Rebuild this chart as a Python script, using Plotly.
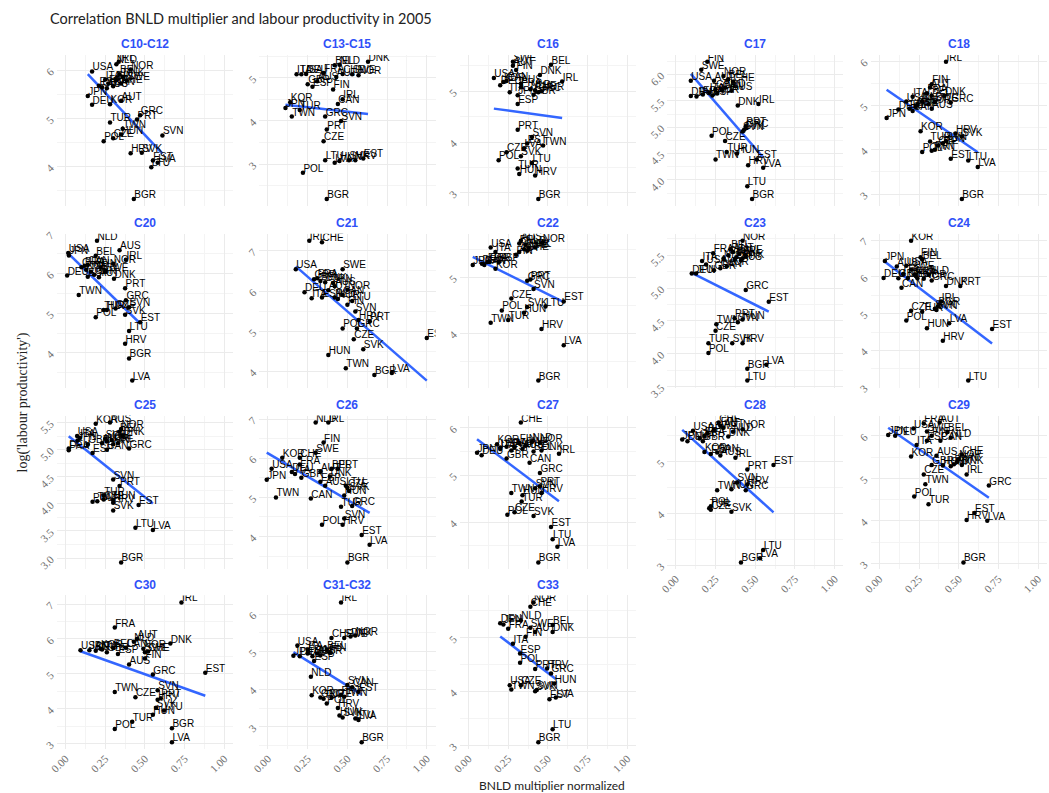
import numpy as np
import plotly.graph_objects as go

TITLE = "Correlation BNLD multiplier and labour productivity in 2005"
X_TITLE = "BNLD multiplier normalized"
Y_TITLE = "log('labour productivity')"

PANEL_NAMES = ["C10-C12", "C13-C15", "C16", "C17", "C18",
               "C20", "C21", "C22", "C23", "C24",
               "C25", "C26", "C27", "C28", "C29",
               "C30", "C31-C32", "C33"]

c10_iso = ["USA","NLD","IRL","NOR","BEL","DNK","ITA","FIN","SWE","FRA","CHE","ESP","GBR","CAN","AUS","JPN","DEU","KOR","AUT","GRC","PRT","TUR","TWN","HUN","CZE","POL","SVN","HRV","SVK","EST","LVA","LTU","BGR"]
c10_x = [0.167,0.32,0.335,0.41,0.34,0.36,0.25,0.32,0.385,0.27,0.35,0.21,0.23,0.30,0.26,0.14,0.167,0.28,0.35,0.47,0.45,0.28,0.36,0.35,0.30,0.24,0.61,0.41,0.48,0.55,0.58,0.54,0.43]
c10_y = [5.98,6.13,6.18,6.02,5.92,5.87,5.81,5.80,5.79,5.73,5.73,5.68,5.65,5.67,5.63,5.47,5.29,5.30,5.37,5.07,4.98,4.92,4.79,4.67,4.59,4.53,4.65,4.28,4.29,4.13,4.08,3.99,3.33]

c13_iso = ["ITA","USA","DEU","FRA","BEL","NLD","DNK","AUT","CHE","SWE","NOR","AUS","GBR","ESP","FIN","IRL","CAN","KOR","JPN","TUR","TWN","GRC","SVN","PRT","CZE","LTU","LVA","HUN","SVK","HRV","EST","POL","BGR"]
c13_x = [0.18,0.21,0.24,0.35,0.42,0.45,0.63,0.43,0.47,0.53,0.57,0.31,0.25,0.28,0.41,0.47,0.44,0.14,0.11,0.20,0.15,0.36,0.46,0.37,0.35,0.36,0.42,0.45,0.51,0.55,0.60,0.22,0.37]
c13_y = [5.08,5.08,5.09,5.11,5.29,5.30,5.37,5.02,5.09,5.08,5.06,4.92,4.85,4.79,4.73,4.50,4.39,4.43,4.30,4.25,4.10,4.10,4.00,3.80,3.53,3.09,3.03,3.07,3.09,3.09,3.13,2.80,2.19]

c16_iso = ["SWE","AUT","FIN","USA","CAN","KOR","DEU","FRA","AUS","BEL","DNK","IRL","NOR","GBR","NLD","CHE","GRC","ITA","JPN","ESP","PRT","SVN","EST","TWN","LVA","CZE","SVK","POL","LTU","TUR","HUN","HRV","BGR"]
c16_x = [0.28,0.28,0.30,0.16,0.24,0.22,0.20,0.33,0.33,0.52,0.45,0.59,0.46,0.41,0.39,0.42,0.44,0.26,0.31,0.31,0.31,0.40,0.37,0.47,0.35,0.24,0.33,0.19,0.40,0.31,0.32,0.42,0.44]
c16_y = [5.58,5.50,5.42,5.26,5.20,5.18,5.12,5.08,5.15,5.52,5.32,5.19,5.00,4.93,5.04,5.02,4.98,4.98,4.92,4.75,4.24,4.10,3.97,3.93,3.88,3.80,3.72,3.64,3.59,3.48,3.37,3.34,2.88]

c17_iso = ["FIN","SWE","NOR","USA","AUT","BEL","CHE","AUS","DEU","FRA","ITA","GBR","ESP","JPN","CAN","NLD","KOR","DNK","IRL","GRC","SVN","SVK","PRT","POL","CZE","TUR","HUN","TWN","EST","HRV","LVA","LTU","BGR"]
c17_x = [0.198,0.16,0.30,0.094,0.24,0.33,0.36,0.35,0.094,0.17,0.21,0.25,0.23,0.13,0.29,0.31,0.26,0.39,0.52,0.44,0.42,0.43,0.44,0.225,0.31,0.32,0.385,0.25,0.51,0.455,0.55,0.45,0.48]
c17_y = [6.24,6.09,5.97,5.88,5.88,5.91,5.86,5.69,5.59,5.62,5.66,5.72,5.60,5.58,5.70,5.75,5.64,5.41,5.44,4.98,4.92,4.95,5.02,4.84,4.74,4.53,4.50,4.39,4.39,4.28,4.23,3.88,3.64]

c18_iso = ["IRL","AUT","FIN","FRA","BEL","DNK","GRC","AUS","NLD","SWE","CHE","ITA","USA","ESP","GBR","NOR","CAN","DEU","JPN","KOR","TUR","HRV","SVK","HUN","SVN","CZE","PRT","TWN","POL","EST","LTU","LVA","BGR"]
c18_x = [0.42,0.32,0.33,0.30,0.33,0.41,0.45,0.33,0.27,0.35,0.24,0.21,0.17,0.19,0.23,0.31,0.21,0.12,0.046,0.26,0.32,0.48,0.52,0.40,0.42,0.37,0.35,0.33,0.27,0.45,0.56,0.62,0.52]
c18_y = [5.99,5.41,5.48,5.28,5.23,5.22,5.07,4.93,5.10,5.08,5.02,5.20,5.09,4.93,4.98,5.03,4.88,4.91,4.72,4.42,4.19,4.37,4.30,4.15,4.20,4.10,4.00,3.98,3.95,3.80,3.76,3.61,2.89]

c20_iso = ["NLD","USA","JPN","AUS","BEL","IRL","FRA","CHE","NOR","CAN","KOR","ITA","SWE","FIN","DEU","ESP","GBR","AUT","DNK","PRT","TWN","GRC","SVN","TUR","HUN","CZE","POL","SVK","EST","LTU","HRV","BGR","LVA"]
c20_x = [0.198,0.017,0.021,0.34,0.19,0.38,0.12,0.10,0.30,0.14,0.13,0.16,0.25,0.22,0.01,0.14,0.18,0.21,0.305,0.375,0.083,0.38,0.40,0.24,0.26,0.315,0.19,0.375,0.47,0.40,0.375,0.40,0.42]
c20_y = [6.83,6.52,6.46,6.59,6.45,6.35,6.20,6.16,6.25,6.22,6.10,6.05,6.05,6.15,5.95,5.92,5.97,5.91,5.87,5.63,5.46,5.33,5.15,5.08,5.08,5.12,4.90,4.96,4.77,4.55,4.23,3.86,3.30]

c21_iso = ["IRL","CHE","USA","SWE","GBR","FRA","BEL","DNK","JPN","AUS","AUT","DEU","ITA","NOR","ESP","NLD","KOR","CAN","FIN","LTU","SVN","HRV","PRT","POL","GRC","CZE","SVK","EST","HUN","TWN","BGR","LVA"]
c21_x = [0.26,0.34,0.175,0.47,0.29,0.31,0.33,0.36,0.41,0.42,0.38,0.23,0.275,0.50,0.34,0.42,0.44,0.47,0.50,0.53,0.55,0.57,0.64,0.47,0.56,0.54,0.60,1.0,0.38,0.49,0.67,0.78]
c21_y = [7.25,7.21,6.54,6.54,6.29,6.32,6.25,6.22,6.20,6.12,6.02,5.97,5.82,6.03,5.84,5.84,5.80,5.90,5.66,5.75,5.49,5.28,5.25,5.07,5.07,4.80,4.55,4.83,4.41,4.08,3.91,3.96]

c22_iso = ["USA","ITA","JPN","DEU","FRA","ESP","KOR","AUS","BEL","NOR","IRL","SWE","AUT","NLD","FIN","CHE","DNK","GBR","CAN","GRC","PRT","SVN","CZE","EST","LTU","SVK","HUN","POL","TUR","TWN","HRV","LVA","BGR"]
c22_x = [0.14,0.17,0.027,0.085,0.12,0.19,0.17,0.33,0.32,0.465,0.42,0.35,0.32,0.36,0.30,0.37,0.38,0.13,0.10,0.37,0.39,0.41,0.27,0.60,0.485,0.37,0.35,0.21,0.25,0.14,0.46,0.60,0.44]
c22_y = [5.53,5.45,5.22,5.24,5.27,5.27,5.15,5.65,5.60,5.62,5.53,5.50,5.45,5.58,5.40,5.47,5.52,5.28,5.22,4.94,4.96,4.79,4.62,4.57,4.48,4.47,4.37,4.41,4.24,4.19,4.08,3.79,3.16]

c23_iso = ["NOR","BEL","FRA","AUT","SWE","IRL","DNK","FIN","CHE","AUS","ESP","NLD","ITA","USA","GBR","CAN","KOR","DEU","JPN","GRC","EST","PRT","SVN","HUN","TWN","CZE","TUR","SVK","HRV","POL","LVA","BGR","LTU"]
c23_x = [0.42,0.345,0.235,0.36,0.40,0.44,0.42,0.38,0.33,0.41,0.37,0.30,0.165,0.19,0.24,0.28,0.32,0.10,0.127,0.44,0.585,0.37,0.39,0.42,0.255,0.25,0.205,0.355,0.42,0.205,0.57,0.45,0.45]
c23_y = [5.72,5.59,5.53,5.55,5.52,5.50,5.45,5.47,5.50,5.42,5.43,5.45,5.41,5.36,5.27,5.30,5.33,5.22,5.22,4.97,4.79,4.54,4.48,4.52,4.45,4.35,4.16,4.16,4.16,4.01,3.83,3.77,3.59]

c24_iso = ["KOR","JPN","FIN","BEL","AUS","USA","SWE","NLD","AUT","ITA","FRA","CHE","GBR","ESP","NOR","DEU","GRC","DNK","PRT","CAN","IRL","BGR","SVK","SVN","CZE","TUR","POL","LVA","HUN","EST","HRV","LTU"]
c24_x = [0.20,0.035,0.26,0.27,0.11,0.17,0.20,0.31,0.22,0.15,0.23,0.18,0.12,0.24,0.28,0.027,0.33,0.42,0.51,0.14,0.39,0.37,0.35,0.36,0.20,0.27,0.17,0.44,0.30,0.71,0.40,0.56]
c24_y = [6.98,6.43,6.53,6.47,6.28,6.30,6.20,6.06,6.06,6.08,6.02,5.97,5.96,5.96,5.95,5.97,5.90,5.75,5.75,5.70,5.33,5.20,5.13,5.10,5.08,5.05,4.81,4.74,4.60,4.58,4.26,3.18]

c25_iso = ["KOR","AUS","NOR","BEL","DNK","USA","ITA","JPN","DEU","FRA","ESP","GBR","SWE","NLD","FIN","AUT","CHE","IRL","CAN","GRC","SVN","PRT","TUR","POL","HUN","CZE","TWN","HRV","SVK","EST","LTU","LVA","BGR"]
c25_x = [0.19,0.28,0.35,0.34,0.36,0.073,0.09,0.075,0.02,0.02,0.17,0.14,0.25,0.26,0.30,0.23,0.29,0.33,0.26,0.40,0.30,0.34,0.24,0.17,0.30,0.24,0.20,0.30,0.30,0.46,0.44,0.55,0.35]
c25_y = [5.48,5.50,5.38,5.33,5.25,5.25,5.22,5.17,5.02,4.99,4.94,5.10,5.20,5.15,5.10,5.12,5.18,5.12,5.00,5.02,4.45,4.33,4.15,4.04,4.07,4.08,4.05,4.02,3.88,3.98,3.56,3.52,2.92]

c26_iso = ["NLD","IRL","FIN","SWE","KOR","CHE","FRA","USA","DEU","AUT","BEL","PRT","DNK","JPN","ESP","GBR","ITA","AUS","CZE","SVK","HUN","LTU","TWN","CAN","TUR","GRC","SVN","HRV","POL","EST","LVA","BGR"]
c26_x = [0.30,0.38,0.35,0.30,0.09,0.20,0.20,0.023,0.15,0.33,0.40,0.44,0.39,-0.008,0.33,0.21,0.17,0.36,0.50,0.51,0.48,0.49,0.05,0.27,0.46,0.53,0.48,0.47,0.34,0.59,0.64,0.50]
c26_y = [6.91,6.91,6.40,6.14,6.01,6.01,5.84,5.73,5.65,5.66,5.73,5.73,5.53,5.45,5.40,5.50,5.60,5.30,5.25,5.16,5.05,5.30,5.00,4.97,4.76,4.78,4.46,4.30,4.30,4.04,3.79,3.34]

c27_iso = ["CHE","JPN","DEU","KOR","USA","NLD","NOR","FIN","SWE","AUT","FRA","ITA","ESP","AUS","BEL","DNK","IRL","GBR","CAN","GRC","PRT","SVN","HRV","TWN","HUN","TUR","POL","CZE","SVK","EST","LTU","LVA","BGR"]
c27_x = [0.33,0.054,0.083,0.18,0.20,0.40,0.45,0.32,0.36,0.29,0.24,0.20,0.27,0.34,0.41,0.46,0.57,0.24,0.385,0.45,0.45,0.42,0.46,0.27,0.34,0.335,0.245,0.29,0.41,0.52,0.53,0.56,0.44]
c27_y = [6.11,5.47,5.42,5.65,5.58,5.70,5.68,5.68,5.62,5.58,5.60,5.55,5.52,5.55,5.50,5.52,5.45,5.35,5.26,5.04,4.76,4.72,4.62,4.62,4.57,4.44,4.16,4.21,4.13,3.90,3.64,3.48,3.15]

c28_iso = ["USA","JPN","DEU","CHE","FIN","SWE","NOR","AUT","BEL","NLD","FRA","ITA","DNK","GBR","KOR","ESP","AUS","CAN","IRL","PRT","EST","SVN","HRV","TWN","HUN","GRC","POL","CZE","TUR","SVK","LTU","LVA","BGR"]
c28_x = [0.108,0.04,0.073,0.27,0.28,0.24,0.42,0.30,0.20,0.36,0.18,0.15,0.33,0.17,0.18,0.22,0.28,0.26,0.375,0.45,0.615,0.385,0.45,0.26,0.35,0.44,0.22,0.22,0.21,0.35,0.55,0.53,0.41]
c28_y = [5.60,5.43,5.40,5.76,5.70,5.62,5.63,5.66,5.55,5.58,5.50,5.45,5.49,5.40,5.19,5.15,5.12,5.18,5.08,4.85,4.94,4.60,4.56,4.45,4.47,4.45,4.14,4.07,4.10,4.03,3.29,3.13,3.05]

c29_iso = ["FRA","AUT","USA","JPN","DEU","SWE","BEL","NLD","ESP","CAN","FIN","ITA","KOR","AUS","CHE","NOR","SVN","GBR","HUN","SVK","DNK","PRT","IRL","CZE","TWN","POL","TUR","GRC","EST","HRV","LVA","BGR"]
c29_x = [0.28,0.38,0.215,0.056,0.10,0.30,0.43,0.45,0.30,0.385,0.33,0.235,0.20,0.36,0.52,0.50,0.49,0.33,0.40,0.45,0.52,0.47,0.55,0.28,0.29,0.22,0.31,0.69,0.60,0.55,0.68,0.53]
c29_y = [6.29,6.31,6.17,6.02,6.00,6.10,6.09,5.95,5.88,5.88,6.00,5.78,5.51,5.53,5.56,5.45,5.38,5.31,5.30,5.28,5.31,5.33,5.09,5.09,4.86,4.57,4.39,4.83,4.18,4.02,4.00,3.02]

c30_iso = ["IRL","FRA","AUT","NLD","DNK","USA","JPN","DEU","ITA","KOR","GBR","BEL","CAN","ESP","NOR","SWE","CHE","FIN","AUS","GRC","EST","SVN","TWN","CZE","HRV","PRT","SVK","LTU","HUN","TUR","POL","BGR","LVA"]
c30_x = [0.73,0.31,0.45,0.43,0.66,0.094,0.15,0.19,0.23,0.22,0.26,0.30,0.38,0.33,0.49,0.50,0.52,0.50,0.40,0.55,0.88,0.58,0.31,0.44,0.58,0.60,0.57,0.62,0.55,0.42,0.31,0.67,0.67]
c30_y = [7.05,6.33,6.00,5.92,5.87,5.68,5.68,5.66,5.70,5.72,5.62,5.75,5.75,5.57,5.72,5.62,5.64,5.44,5.27,4.98,5.03,4.53,4.48,4.33,4.26,4.30,4.03,3.95,3.83,3.63,3.42,3.44,3.04]

c31_iso = ["IRL","CHE","SWE","DNK","NOR","USA","JPN","DEU","ITA","BEL","FRA","AUT","AUS","FIN","GBR","ESP","NLD","SVN","CAN","EST","KOR","GRC","TUR","CZE","PRT","TWN","HRV","POL","HUN","SVK","LVA","LTU","BGR"]
c31_x = [0.46,0.40,0.48,0.52,0.55,0.185,0.16,0.20,0.25,0.37,0.25,0.31,0.28,0.39,0.33,0.29,0.27,0.50,0.53,0.57,0.275,0.33,0.35,0.40,0.46,0.48,0.44,0.37,0.45,0.47,0.57,0.55,0.59]
c31_y = [6.31,5.36,5.36,5.40,5.43,5.16,4.89,4.88,5.05,5.05,4.95,4.95,4.88,4.98,4.90,4.75,4.33,4.11,4.05,3.93,3.84,3.78,3.75,3.78,3.85,3.80,3.50,3.62,3.30,3.25,3.18,3.22,2.59]

c33_iso = ["NOR","CHE","NLD","DEU","JPN","FRA","SWE","BEL","DNK","AUT","FIN","ITA","ESP","POL","PRT","HRV","GRC","HUN","USA","CZE","TWN","SVK","SVN","EST","LVA","LTU","BGR"]
c33_x = [0.41,0.39,0.33,0.20,0.22,0.25,0.39,0.53,0.53,0.42,0.36,0.28,0.325,0.325,0.42,0.495,0.52,0.54,0.26,0.33,0.27,0.42,0.43,0.51,0.55,0.53,0.44]
c33_y = [5.66,5.58,5.33,5.27,5.25,5.17,5.19,5.24,5.11,5.11,5.02,4.89,4.71,4.54,4.42,4.43,4.34,4.15,4.12,4.12,4.04,4.01,4.03,3.86,3.89,3.30,3.06]

Y_TICK_STEP = [1, 1, 1, 0.5, 1,
               1, 1, 1, 0.5, 1,
               0.5, 1, 1, 1, 1,
               1, 1, 1]

PANELS = [
    (c10_iso, c10_x, c10_y), (c13_iso, c13_x, c13_y), (c16_iso, c16_x, c16_y),
    (c17_iso, c17_x, c17_y), (c18_iso, c18_x, c18_y), (c20_iso, c20_x, c20_y),
    (c21_iso, c21_x, c21_y), (c22_iso, c22_x, c22_y), (c23_iso, c23_x, c23_y),
    (c24_iso, c24_x, c24_y), (c25_iso, c25_x, c25_y), (c26_iso, c26_x, c26_y),
    (c27_iso, c27_x, c27_y), (c28_iso, c28_x, c28_y), (c29_iso, c29_x, c29_y),
    (c30_iso, c30_x, c30_y), (c31_iso, c31_x, c31_y), (c33_iso, c33_x, c33_y),
]

# ---------------- geometry (target pixel positions in the 1049x793 picture)
W, H = 1049, 809          # page drawn slightly taller; the photo shrinks it vertically
V_SCALE, V_OFF = 0.98, 2.0


def vy(p):
    """target picture row -> figure pixel row"""
    return (p - V_OFF) / V_SCALE


COL_ZERO = [58, 262, 464, 673, 878]
PX_UNIT = 160.0
X_RANGE = [-0.055, 1.055]
ROWS = [(52, 203), (231, 385), (413, 567), (593, 747)]

TICK_FONT = dict(family="Liberation Serif", size=11, color="#6e6e6e")
GRID = "#EBEBEB"
MINOR_GRID = "#F4F4F4"

fig = go.Figure()
annotations = []

for i, (name, (iso, xs, ys)) in enumerate(zip(PANEL_NAMES, PANELS)):
    r, c = divmod(i, 5)
    k = "" if i == 0 else str(i + 1)
    xa, ya = "x" + k, "y" + k
    xs_a = np.array(xs, dtype=float)
    ys_a = np.array(ys, dtype=float)
    slope, icpt = np.polyfit(xs_a, ys_a, 1)
    lx = np.array([xs_a.min(), xs_a.max()])
    ly = icpt + slope * lx

    allv = np.concatenate([ys_a, ly])
    lo, hi = allv.min(), allv.max()
    pad = 0.05 * (hi - lo)
    top, bot = vy(ROWS[r][0]), vy(ROWS[r][1])
    y_per_px = (hi - lo + 2 * pad) / (bot - top)
    x_per_px = 1.0 / PX_UNIT

    fig.add_trace(go.Scatter(x=lx, y=ly, mode="lines", xaxis=xa, yaxis=ya,
                             line=dict(color="#3366FF", width=2.5),
                             hoverinfo="skip", showlegend=False))
    fig.add_trace(go.Scatter(x=xs, y=ys, mode="markers", xaxis=xa, yaxis=ya,
                             marker=dict(color="black", size=4.5),
                             cliponaxis=True, showlegend=False))
    fig.add_trace(go.Scatter(x=xs_a + 0.5 * x_per_px, y=ys_a + 3.5 * y_per_px,
                             mode="text", text=iso, textposition="middle right",
                             xaxis=xa, yaxis=ya,
                             textfont=dict(family="Liberation Sans", size=10, color="black"),
                             cliponaxis=True, showlegend=False, hoverinfo="skip"))

    z = COL_ZERO[c]
    x0 = (z + X_RANGE[0] * PX_UNIT) / W
    x1 = (z + X_RANGE[1] * PX_UNIT) / W
    y0 = 1 - bot / H
    y1 = 1 - top / H
    step = Y_TICK_STEP[i]
    show_x = (r == 3) or (r == 2 and c >= 3)

    fig.layout["xaxis" + k] = dict(
        domain=[x0, x1], range=X_RANGE, anchor=ya, tickmode="array",
        tickvals=[0, 0.25, 0.5, 0.75, 1.0], ticktext=["0.00", "0.25", "0.50", "0.75", "1.00"],
        showticklabels=show_x, tickangle=-45, tickfont=TICK_FONT,
        showgrid=True, gridcolor=GRID, gridwidth=1, zeroline=False, showline=False,
        ticks="", minor=dict(tickvals=[0.125, 0.375, 0.625, 0.875], showgrid=True,
                             gridcolor=MINOR_GRID, gridwidth=1))
    fig.layout["yaxis" + k] = dict(
        domain=[y0, y1], range=[lo - pad, hi + pad], anchor=xa,
        dtick=step, tick0=0, tickformat=".1f" if step < 1 else ".0f",
        tickangle=-45, tickfont=TICK_FONT, ticklabelstandoff=5,
        showgrid=True, gridcolor=GRID, gridwidth=1, zeroline=False, showline=False,
        ticks="", minor=dict(dtick=step / 2, tick0=0, showgrid=True,
                             gridcolor=MINOR_GRID, gridwidth=1))

    annotations.append(dict(text="<b>%s</b>" % name, xref="paper", yref="paper",
                            x=(x0 + x1) / 2, y=1 - vy(ROWS[r][0] - 10.5) / H,
                            xanchor="center", yanchor="middle", showarrow=False,
                            font=dict(family="Liberation Sans", size=12, color="#3050F8")))

annotations.append(dict(text=X_TITLE, xref="paper", yref="paper", x=548 / W, y=1 - vy(783) / H,
                        xanchor="center", yanchor="middle", showarrow=False,
                        font=dict(family="Lato", size=12, color="#222222")))
annotations.append(dict(text=Y_TITLE, xref="paper", yref="paper", x=15 / W, y=1 - vy(400) / H,
                        xanchor="center", yanchor="middle", showarrow=False, textangle=-90,
                        font=dict(family="Liberation Serif", size=14, color="#222222")))
annotations.append(dict(text=TITLE, xref="paper", yref="paper", x=40 / W, y=1 - vy(16) / H,
                        xanchor="left", yanchor="middle", align="left", showarrow=False,
                        font=dict(family="Lato", size=14.5, color="#222222")))

fig.update_layout(width=W, height=H, margin=dict(l=0, r=0, t=0, b=0),
                  paper_bgcolor="white", plot_bgcolor="white",
                  annotations=annotations, showlegend=False)

PIN_PAGE = ("document.body.style.margin='0px';")

fig.write_html("out.html", config={"displayModeBar": False}, post_script=PIN_PAGE)
